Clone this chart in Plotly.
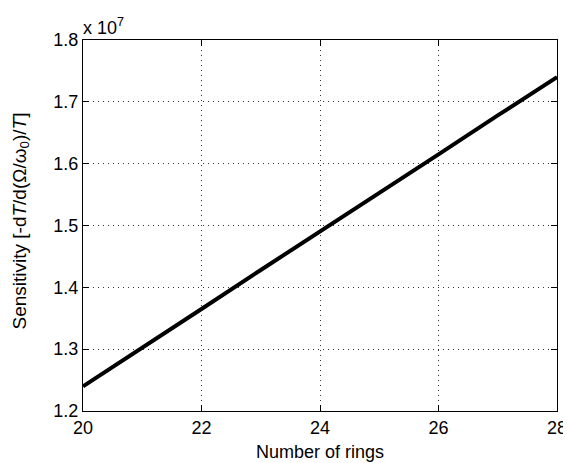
import plotly.graph_objects as go

# dati
rings = [20, 21, 22, 23, 24, 25, 26, 27, 28]
sensitivity = [1.240e7, 1.302e7, 1.365e7, 1.428e7, 1.490e7, 1.552e7, 1.615e7, 1.678e7, 1.740e7]
y_ticks = [1.2e7, 1.3e7, 1.4e7, 1.5e7, 1.6e7, 1.7e7, 1.8e7]
y_tick_labels = ["1.2", "1.3", "1.4", "1.5", "1.6", "1.7", "1.8"]
x_ticks = [20, 22, 24, 26, 28]

font = dict(family="Liberation Sans, Arial, sans-serif", size=18, color="black")

fig = go.Figure()
fig.add_trace(go.Scatter(x=rings, y=sensitivity, mode='lines',
                         line=dict(color='black', width=4), showlegend=False))

axis_common = dict(
    showline=True, linecolor='black', linewidth=1, mirror='ticks',
    ticks='inside', ticklen=6, tickcolor='black',
    showgrid=True, gridcolor='#333333', griddash='1px,4px', gridwidth=1,
    zeroline=False, tickfont=font, automargin=False,
)

fig.update_xaxes(range=[20, 28], tickvals=x_ticks,
                 title=dict(text="Number of rings", font=font, standoff=8),
                 **axis_common)
fig.update_yaxes(range=[1.2e7, 1.8e7], tickvals=y_ticks, ticktext=y_tick_labels,
                 **axis_common)

# titolo asse y come annotazione per controllarne la posizione
fig.add_annotation(text="Sensitivity [-d<i>T</i>/d(Ω/ω<sub>0</sub>)/<i>T</i>]",
                   xref='paper', yref='paper', x=0, y=0.5, xshift=-63, yshift=4,
                   xanchor='center', yanchor='middle',
                   textangle=-90, showarrow=False, font=dict(font, size=19))

fig.add_annotation(text="x 10<sup>7</sup>", xref='paper', yref='paper', x=0, y=1,
                   xanchor='left', yanchor='bottom', showarrow=False, font=font, xshift=-2)

# la pagina ha un margine di 8px, quindi la figura è più piccola
fig.update_layout(
    width=563, height=455,
    margin=dict(l=75, r=14, t=32, b=52),
    plot_bgcolor='white', paper_bgcolor='white',
    font=font,
)

fig.write_html("out.html")
